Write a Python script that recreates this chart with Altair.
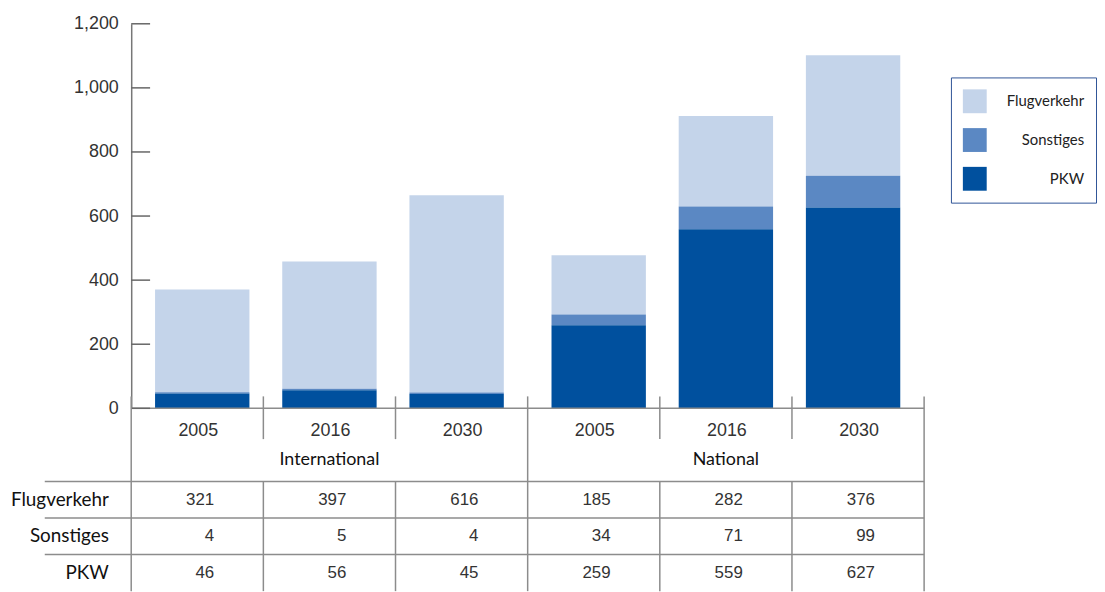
import altair as alt
import pandas as pd

# ---- data ----
regions = ["International", "National"]
years = ["2005", "2016", "2030"]
categories = ["Flugverkehr", "Sonstiges", "PKW"]
flugverkehr = [321, 397, 616, 185, 282, 376]
sonstiges = [4, 5, 4, 34, 71, 99]
pkw = [46, 56, 45, 259, 559, 627]
y_ticks = [0, 200, 400, 600, 800, 1000, 1200]
colors = ["#c4d4ea", "#5b88c3", "#00509e"]

series = {"Flugverkehr": flugverkehr, "Sonstiges": sonstiges, "PKW": pkw}
cols = [f"{r} {y}" for r in regions for y in years]

recs = []
for ci, c in enumerate(cols):
    for k, cat in enumerate(categories):
        recs.append({
            "col": c,
            "region": regions[ci // 3],
            "year": years[ci % 3],
            "cat": cat,
            "value": series[cat][ci],
            "order": len(categories) - 1 - k,
        })
df = pd.DataFrame(recs)

W = 798
H_TOP = 387
H_TAB = 184
LINE = "#8c8c8c"
NUMFONT = "Liberation Sans"
TXTFONT = "Lato"

# ---------------- top: stacked bars ----------------
yscale = alt.Scale(domain=[0, 1200], nice=False, zero=True)

bars = alt.Chart(df).transform_stack(
    stack="value", as_=["y0", "y1"], groupby=["col"],
    sort=[alt.SortField("order", order="ascending")]
).mark_bar().encode(
    x=alt.X("region:N", scale=alt.Scale(domain=regions, paddingInner=0, paddingOuter=0), axis=None),
    xOffset=alt.XOffset("year:N", scale=alt.Scale(domain=years, paddingInner=0.258, paddingOuter=0.1875)),
    y=alt.Y("y0:Q", scale=yscale, axis=alt.Axis(
        values=y_ticks, format=",.0f", tickSize=0, grid=False, title=None,
        domainColor="#777777", domainWidth=1.5,
        labelFont=NUMFONT, labelFontSize=18, labelColor="#333333", labelPadding=13)),
    y2="y1:Q",
    color=alt.Color("cat:N", scale=alt.Scale(domain=categories, range=colors),
                    legend=alt.Legend(
                        orient="none", legendX=825, legendY=54, title=None,
                        symbolType="square", symbolSize=576, symbolStrokeWidth=0,
                        symbolOpacity=1, labelFont=TXTFONT, labelFontSize=15,
                        labelColor="#222222", labelAlign="right", labelOffset=98,
                        rowPadding=15, padding=12, strokeColor="#2f5597")),
)

tick_df = pd.DataFrame({"v": y_ticks})
ticks = alt.Chart(tick_df).mark_rule(color="#666666", strokeWidth=1.5).encode(
    y=alt.Y("v:Q", scale=yscale),
    x=alt.value(0), x2=alt.value(19),
)
baseline = alt.Chart(pd.DataFrame({"v": [0]})).mark_rule(color=LINE, strokeWidth=1.5).encode(
    y=alt.Y("v:Q", scale=yscale), x=alt.value(0), x2=alt.value(W),
)

top = alt.layer(bars, baseline, ticks).resolve_scale(x="independent").properties(width=W, height=H_TOP)

# ---------------- bottom: table ----------------
rows_order = ["year", "group"] + categories
xs = alt.Scale(domain=cols, paddingInner=0, paddingOuter=0)
ys = alt.Scale(domain=rows_order, paddingInner=0, paddingOuter=0)

label_expr = "indexof([" + ",".join(f"'{c}'" for c in categories) + "], datum.value) >= 0 ? datum.value : ''"
row_axis = alt.Axis(
    title=None, domain=False, ticks=False, grid=False,
    labelExpr=label_expr, labelFont=TXTFONT, labelFontSize=19,
    labelColor="#111111", labelPadding=23)

values_txt = alt.Chart(df).mark_text(
    align="right", dx=17, font=NUMFONT, fontSize=17, color="#333333"
).encode(
    x=alt.X("col:N", scale=xs, axis=None),
    y=alt.Y("cat:N", scale=ys, axis=row_axis),
    text=alt.Text("value:Q"),
)

year_df = pd.DataFrame({"col": cols, "row": "year", "label": [y for _ in regions for y in years]})
year_txt = alt.Chart(year_df).mark_text(
    font=NUMFONT, fontSize=18, color="#333333", dy=4, dx=1
).encode(
    x=alt.X("col:N", scale=xs, axis=None),
    y=alt.Y("row:N", scale=ys),
    text="label:N",
)

group_df = pd.DataFrame({"col": [cols[1], cols[4]], "row": "group", "label": regions})
group_txt = alt.Chart(group_df).mark_text(
    font=TXTFONT, fontSize=18, color="#111111", dy=-3
).encode(
    x=alt.X("col:N", scale=xs, axis=None),
    y=alt.Y("row:N", scale=ys),
    text="label:N",
)

inner_cols = [c for i, c in enumerate(cols) if i % 3 != 0]
group_start_cols = [c for i, c in enumerate(cols) if i % 3 == 0]

sep_year = alt.Chart(pd.DataFrame({"col": inner_cols})).mark_rule(color=LINE, strokeWidth=1.5).encode(
    x=alt.X("col:N", scale=xs, axis=None, bandPosition=0),
    y=alt.value(-12), y2=alt.value(31),
)
sep_group = alt.Chart(pd.DataFrame({"col": group_start_cols})).mark_rule(color=LINE, strokeWidth=1.5).encode(
    x=alt.X("col:N", scale=xs, axis=None, bandPosition=0),
    y=alt.value(-12), y2=alt.value(H_TAB),
)
sep_end = alt.Chart(pd.DataFrame({"col": [cols[-1]]})).mark_rule(color=LINE, strokeWidth=1.5).encode(
    x=alt.X("col:N", scale=xs, axis=None, bandPosition=1),
    y=alt.value(-12), y2=alt.value(H_TAB),
)
sep_rows_v = alt.Chart(pd.DataFrame({"col": inner_cols, "row": categories[0]})).mark_rule(
    color=LINE, strokeWidth=1.5
).encode(
    x=alt.X("col:N", scale=xs, axis=None, bandPosition=0),
    y=alt.Y("row:N", scale=ys, bandPosition=0),
    y2=alt.value(H_TAB),
)
sep_rows_h = alt.Chart(pd.DataFrame({"row": categories})).mark_rule(color=LINE, strokeWidth=1.5).encode(
    y=alt.Y("row:N", scale=ys, bandPosition=0),
    x=alt.value(-87), x2=alt.value(W),
)

table = alt.layer(
    values_txt, sep_rows_h, sep_rows_v, sep_year, sep_group, sep_end,
    year_txt, group_txt
).properties(width=W, height=H_TAB)

chart = alt.vconcat(top, table, spacing=0, bounds="flush").properties(
    padding={"left": 2, "top": 5, "right": 0, "bottom": 0},
    background="white",
).configure_view(stroke=None)

chart.save("out.html", embed_options={"renderer": "svg", "actions": False})
